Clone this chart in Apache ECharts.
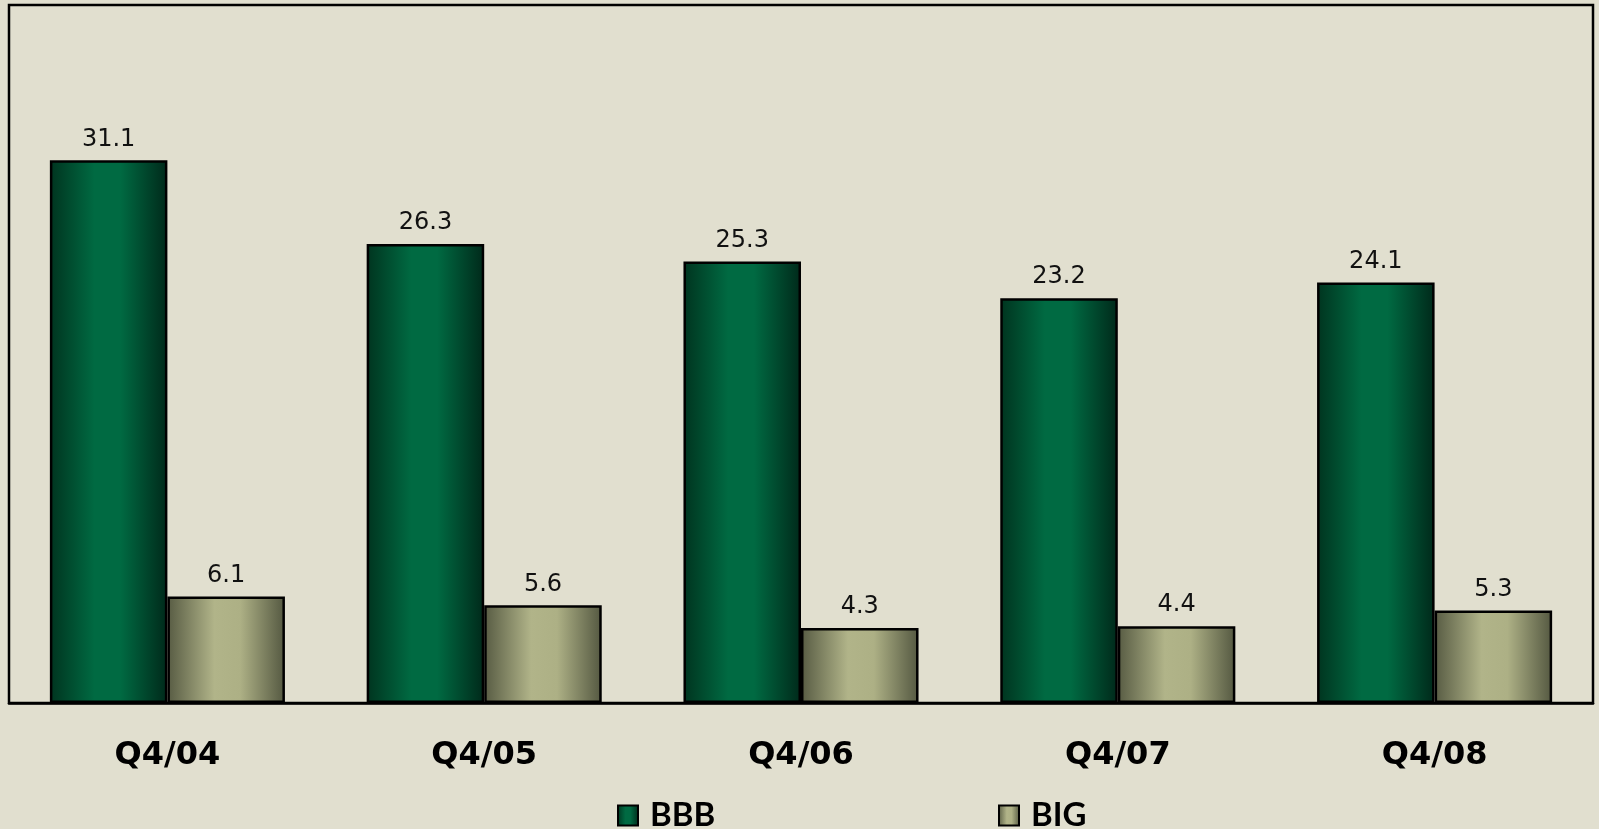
<!DOCTYPE html>
<html>
<head>
<meta charset="utf-8">
<title>BBB vs BIG</title>
<script src="https://cdn.jsdelivr.net/npm/echarts@6/dist/echarts.min.js"></script>
<style>
  html, body { margin: 0; padding: 0; background: #e1dfcf; }
  #chart { width: 1599px; height: 829px; }
</style>
</head>
<body>
<div id="chart"></div>
<script>
// Quarter labels and the two series
const categories = ['Q4/04', 'Q4/05', 'Q4/06', 'Q4/07', 'Q4/08'];
const bbbValues = [31.1, 26.3, 25.3, 23.2, 24.1];
const bigValues = [6.1, 5.6, 4.3, 4.4, 5.3];

// Cylinder-like horizontal shading for each bar colour
function shade(stops) {
  return new echarts.graphic.LinearGradient(0, 0, 1, 0,
    stops.map(([offset, color]) => ({ offset, color })));
}
const greenFill = shade([[0, '#00341f'], [0.38, '#006a42'], [0.6, '#006a42'], [1, '#00291a']]);
const oliveFill = shade([[0, '#575b43'], [0.4, '#b1b489'], [0.62, '#adb085'], [1, '#545841']]);

const valueLabel = {
  show: true,
  position: 'top',
  distance: 9,
  color: '#111',
  fontFamily: 'DejaVu Sans',
  fontSize: 24,
  formatter: p => p.value.toFixed(1)
};

const legendText = {
  color: '#000',
  fontFamily: 'Lato',
  fontWeight: 'bold',
  fontSize: 33,
  padding: [0, 0, 0, 7]
};

const legendBase = { icon: 'rect', top: 794, itemWidth: 20, itemHeight: 20, textStyle: legendText,
  itemStyle: { borderColor: '#000', borderWidth: 2 } };

const chart = echarts.init(document.getElementById('chart'));
chart.setOption({
  backgroundColor: '#e1dfcf',
  animation: false,
  grid: {
    left: 9, right: 6, top: 5, bottom: 126,
    show: true, borderColor: '#000', borderWidth: 2.5, backgroundColor: 'transparent'
  },
  legend: [
    Object.assign({ data: ['BBB'], left: 612 }, legendBase),
    Object.assign({ data: ['BIG'], left: 993 }, legendBase)
  ],
  xAxis: {
    type: 'category',
    data: categories,
    axisLine: { lineStyle: { color: '#000', width: 2.5 } },
    axisTick: { show: false },
    axisLabel: {
      color: '#000',
      fontFamily: 'DejaVu Sans',
      fontWeight: 'bold',
      fontSize: 32,
      margin: 37
    }
  },
  yAxis: {
    type: 'value',
    min: 0, max: 40,
    show: false,
    splitLine: { show: false }
  },
  series: [
    {
      name: 'BBB', type: 'bar', data: bbbValues,
      barGap: '0%', barCategoryGap: '25.8%',
      itemStyle: { color: greenFill, borderColor: '#000', borderWidth: 2.5 },
      label: valueLabel
    },
    {
      name: 'BIG', type: 'bar', data: bigValues,
      itemStyle: { color: oliveFill, borderColor: '#000', borderWidth: 2.5 },
      label: valueLabel
    }
  ]
});
</script>
</body>
</html>
